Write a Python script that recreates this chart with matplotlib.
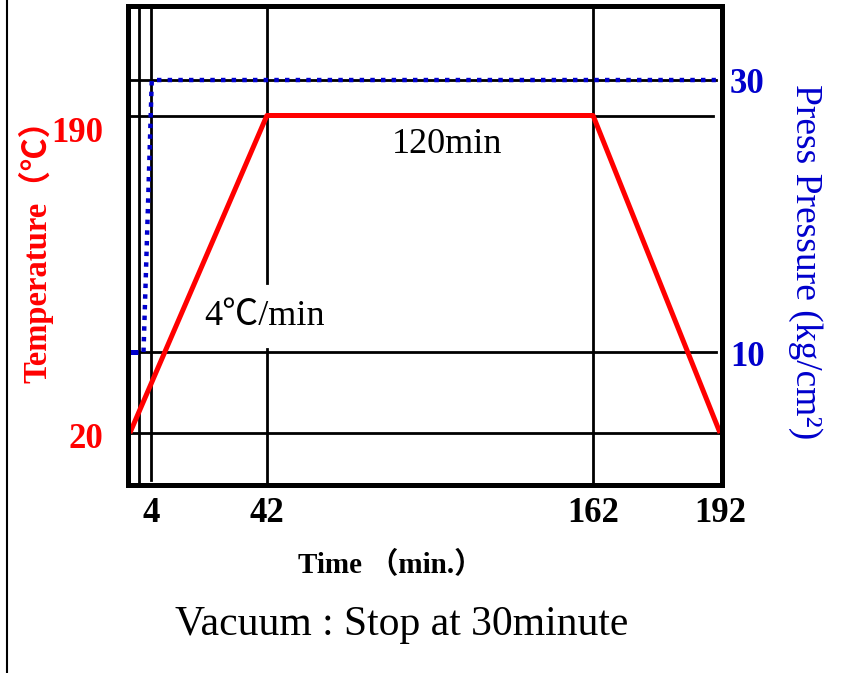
# Cure cycle chart: temperature and press pressure vs time (schematic time axis)

import numpy as np
import matplotlib.pyplot as plt
from matplotlib.lines import Line2D
from matplotlib.transforms import ScaledTranslation, blended_transform_factory

# Data
temp_time = [0, 42, 162, 192]
temp_vals = [20, 190, 190, 20]

press_hold_time = [-0.45, 1.5]
press_hold_vals = [10, 10]
press_time = [2.6, 4.3, 191]
press_vals = [10, 30, 30]

x_ticks = [4, 42, 162, 192]
temp_ticks = [20, 190]
press_ticks = [10, 30]
guide_times = [1.7, 4, 42, 162]

# The time axis in the original is drawn not to scale,
# so use a piecewise-linear scale between the marked times
scale_t = [-10, 0, 4, 42, 162, 192, 210]
scale_u = [-50, 2.5, 23.5, 139.5, 465.5, 592.5, 668.7]


def fwd(t):
    return np.interp(t, scale_t, scale_u)


def inv(u):
    return np.interp(u, scale_u, scale_t)


serif = ['Liberation Serif', 'Noto Sans CJK SC']
RED = '#FF0000'
BLUE = '#0000CC'

fig = plt.figure(figsize=(8.43, 6.73), dpi=100)
ax = fig.add_axes([127.5 / 843, (673 - 484.5) / 673, 594.5 / 843, 479 / 673])
ax.set_xscale('function', functions=(fwd, inv))
ax2 = ax.twinx()

# black guide lines
for t in guide_times:
    if t == 42:
        ax.axvline(t, ymin=0.42, ymax=1, color='black', lw=2, zorder=1)
        ax.axvline(t, ymin=0, ymax=0.283, color='black', lw=2, zorder=1)
    elif t == 4:
        ax.axvline(t, ymin=0.01, ymax=1, color='black', lw=2, zorder=1)
    else:
        ax.axvline(t, color='black', lw=2, zorder=1)

ax.axhline(190, xmax=0.985, color='black', lw=2, zorder=1)
ax.axhline(20, color='black', lw=2, zorder=1)
tr_press = blended_transform_factory(ax.transAxes, ax2.transData)
for p in press_ticks:
    ax.plot([0, 0.99], [p, p], transform=tr_press, color='black', lw=2, zorder=1)

# temperature profile
ax.plot(temp_time, temp_vals, color=RED, lw=3.6, zorder=3, solid_capstyle='butt')

# pressure profile
ax2.plot(press_hold_time, press_hold_vals, color=BLUE, lw=3.6, solid_capstyle='butt')
ax2.plot(press_time, press_vals, color=BLUE, lw=3.2, linestyle=(0, (1.0, 1.4)))

ax.set_xlim(-0.45, 192.45)
ax.set_ylim(-7.58, 248.9)
ax2.set_ylim(0.26, 35.48)

# frame
for a in (ax, ax2):
    for s in a.spines.values():
        s.set_linewidth(3.6)
        s.set_color('black')
    a.tick_params(length=0)
    a.set_yticks([])

ax.set_xticks(x_ticks)
ax.set_xticklabels([str(v) for v in x_ticks], fontsize=25, fontweight='bold',
                   family=serif)
ax.tick_params(axis='x', pad=9)

# y value labels
tr_left = blended_transform_factory(ax.transAxes, ax.transData)
for v, dy in zip(temp_ticks, [7, 18]):
    ax.text(-0.041, v, str(v), color=RED, fontsize=25, fontweight='bold',
            family=serif, ha='right', va='center',
            transform=tr_left + ScaledTranslation(0, -dy / 100, fig.dpi_scale_trans))

tr_right = blended_transform_factory(ax2.transAxes, ax2.transData)
for v, dy in zip(press_ticks, [5, 4.5]):
    ax2.text(1.0135, v, str(v), color=BLUE, fontsize=25, fontweight='bold',
             family=serif, ha='left', va='center',
             transform=tr_right + ScaledTranslation(0, -dy / 100, fig.dpi_scale_trans))

# annotations
ax.text(0.537, 0.709, '120min', transform=ax.transAxes, fontsize=26,
        family=serif, ha='center', va='center')
ax.text(0.231, 0.350, '4℃/min', transform=ax.transAxes, fontsize=26,
        family=serif, ha='center', va='center')

# axis titles
fig.text(0.0425, 0.638, 'Temperature（℃）', rotation=90, color=RED, fontsize=23.5,
         fontweight='bold', family=serif, ha='center', va='center')
fig.text(0.955, 0.611, 'Press Pressure (kg/cm²)', rotation=270, color=BLUE,
         fontsize=27, family=serif, ha='center', va='center')
fig.text(0.4638, 0.149, 'Time （min.）', fontsize=21, fontweight='bold',
         family=serif, ha='center', va='baseline')
fig.text(0.4769, 0.0565, 'Vacuum : Stop at 30minute', fontsize=30,
         family=serif, ha='center', va='baseline')

# left border line of the slide
fig.add_artist(Line2D([7 / 843, 7 / 843], [0, 1], transform=fig.transFigure,
                      color='black', lw=1.5))

plt.savefig('out.png', dpi=100)
